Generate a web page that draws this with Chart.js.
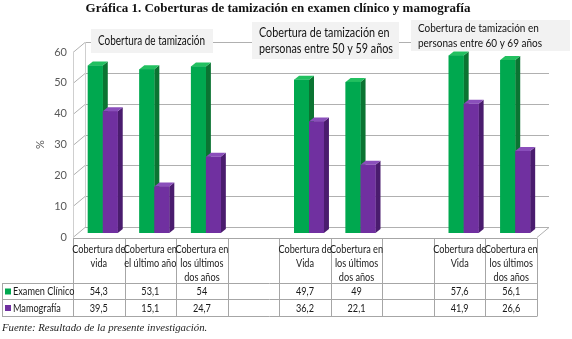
<!DOCTYPE html>
<html>
<head>
<meta charset="utf-8">
<script src="https://cdn.jsdelivr.net/npm/chart.js@4.4.0/dist/chart.umd.min.js"></script>
<style>
  html, body { margin: 0; padding: 0; background: #fff; }
  #wrap { position: relative; width: 572px; height: 339px; overflow: hidden; }
  #title { position: absolute; left: 0; width: 556px; top: 0; text-align: center; font: bold 13px "Liberation Serif", serif; color: #111; }
  #note { position: absolute; left: 2px; top: 321px; font: italic 10.8px "Liberation Serif", serif; color: #222; }
  canvas { position: absolute; left: 0; top: 0; }
</style>
</head>
<body>
<div id="wrap">
  <canvas id="myChart" width="572" height="339"></canvas>
  <div id="title">Gráfica 1. Coberturas de tamización en examen clínico y mamografía</div>
  <div id="note">Fuente: Resultado de la presente investigación.</div>
</div>
<script>
// categories (empty ones are the gaps between groups)
const categories = [
    ['Cobertura de', 'vida'],
    ['Cobertura en', 'el último año'],
    ['Cobertura en', 'los últimos', 'dos años'],
    [''],
    ['Cobertura de', 'Vida'],
    ['Cobertura en', 'los últimos', 'dos años'],
    [''],
    ['Cobertura de', 'Vida'],
    ['Cobertura en', 'los últimos', 'dos años']
];
const examenClinico = [54.3, 53.1, 54, null, 49.7, 49, null, 57.6, 56.1];
const mamografia = [39.5, 15.1, 24.7, null, 36.2, 22.1, null, 41.9, 26.6];
const seriesNames = ['Examen Clínico', 'Mamografía'];
const yTicks = [0, 10, 20, 30, 40, 50, 60];
const groupTitles = [
    ['Cobertura de tamización'],
    ['Cobertura de tamización en', 'personas entre 50 y 59 años'],
    ['Cobertura de tamización en', 'personas entre 60 y 69 años']
];

const FONT = 'Lato, sans-serif';
const colors = {
    front: ['#00a84f', '#7030a0'],
    side: ['#0b7432', '#4a1c6e'],
    top: ['#22c060', '#8a4fbb']
};
const wallDx = 12, wallDy = -10;   // back wall offset
const barDx = 4, barDy = -4;       // bars sit in the middle of the depth
const depthX = 5, depthY = -4;     // bar thickness

function fmt(v) {
    return v === null ? '' : String(v).replace('.', ',');
}

// Lato is wider than the Calibri of the original, so squeeze it a bit
function narrowText(ctx, t, x, y, sx) {
    ctx.save();
    ctx.translate(x, y);
    ctx.scale(sx, 1);
    ctx.fillText(t, 0, 0);
    ctx.restore();
}

// back wall, grid and floor
const wallPlugin = {
    id: 'wall',
    beforeDatasetsDraw(chart) {
        const ctx = chart.ctx;
        const a = chart.chartArea;
        const y = chart.scales.y;
        ctx.save();
        ctx.strokeStyle = '#b0b0b0';
        ctx.lineWidth = 1;
        yTicks.forEach(v => {
            const py = Math.round(y.getPixelForValue(v)) + 0.5;
            ctx.beginPath();
            ctx.moveTo(a.left, py);
            ctx.lineTo(a.left + wallDx, py + wallDy);
            ctx.lineTo(a.right + wallDx, py + wallDy);
            ctx.stroke();
        });
        ctx.strokeStyle = '#cfcfcf';
        ctx.beginPath();
        ctx.moveTo(a.left + 0.5, a.top);
        ctx.lineTo(a.left + 0.5, a.bottom);
        ctx.moveTo(a.left + wallDx + 0.5, a.top + wallDy);
        ctx.lineTo(a.left + wallDx + 0.5, a.bottom + wallDy);
        ctx.stroke();
        ctx.strokeStyle = '#b0b0b0';
        ctx.beginPath();
        ctx.moveTo(a.right, a.bottom + 0.5);
        ctx.lineTo(a.right + wallDx, a.bottom + 0.5 + wallDy);
        ctx.stroke();
        ctx.restore();

        // shift bars into the middle of the depth
        ctx.save();
        ctx.translate(barDx, barDy);
    },
    afterDatasetsDraw(chart) {
        const ctx = chart.ctx;
        const metas = [chart.getDatasetMeta(0), chart.getDatasetMeta(1)];
        for (let i = 0; i < categories.length; i++) {
            metas.forEach((meta, d) => {
                const el = meta.data[i];
                const val = chart.data.datasets[d].data[i];
                if (!el || val === null) return;
                const p = el.getProps(['x', 'y', 'base', 'width'], true);
                const l = p.x - p.width / 2, r = p.x + p.width / 2;
                ctx.fillStyle = colors.side[d];
                ctx.beginPath();
                ctx.moveTo(r, p.y);
                ctx.lineTo(r + depthX, p.y + depthY);
                ctx.lineTo(r + depthX, p.base + depthY);
                ctx.lineTo(r, p.base);
                ctx.closePath();
                ctx.fill();
                ctx.fillStyle = colors.top[d];
                ctx.beginPath();
                ctx.moveTo(l, p.y);
                ctx.lineTo(l + depthX, p.y + depthY);
                ctx.lineTo(r + depthX, p.y + depthY);
                ctx.lineTo(r, p.y);
                ctx.closePath();
                ctx.fill();
                ctx.fillStyle = colors.front[d];
                ctx.fillRect(l, p.y, p.width, p.base - p.y);
            });
        }
        ctx.restore();
    }
};

// data table under the chart + group captions
const tablePlugin = {
    id: 'table',
    afterDraw(chart) {
        const ctx = chart.ctx;
        const a = chart.chartArea;
        const x = chart.scales.x;
        const colW = (a.right - a.left) / categories.length;
        const top = a.bottom + 1.5;
        const rowTop = top + 45, rowMid = rowTop + 16, rowBot = rowMid + 17;

        ctx.save();
        ctx.strokeStyle = '#a6a6a6';
        ctx.lineWidth = 1;
        ctx.beginPath();
        ctx.moveTo(a.left, top); ctx.lineTo(a.right, top);
        ctx.moveTo(2, rowTop); ctx.lineTo(a.right, rowTop);
        ctx.moveTo(2, rowMid); ctx.lineTo(a.right, rowMid);
        ctx.moveTo(2, rowBot); ctx.lineTo(a.right, rowBot);
        ctx.moveTo(2.5, rowTop); ctx.lineTo(2.5, rowBot);
        for (let i = 0; i <= categories.length; i++) {
            const px = Math.round(a.left + i * colW) + 0.5;
            ctx.moveTo(px, top); ctx.lineTo(px, rowBot);
        }
        ctx.stroke();

        ctx.fillStyle = '#1a1a1a';
        ctx.font = '12px ' + FONT;
        ctx.textAlign = 'center';
        ctx.textBaseline = 'middle';
        const sx = 53 / ctx.measureText('Cobertura de').width;
        categories.forEach((lines, i) => {
            const cx = x.getPixelForValue(i);
            lines.forEach((t, k) => narrowText(ctx, t, cx, top + 11 + k * 14, sx));
            narrowText(ctx, fmt(examenClinico[i]), cx, rowTop + 8, sx);
            narrowText(ctx, fmt(mamografia[i]), cx, rowMid + 8.5, sx);
        });
        ctx.textAlign = 'left';
        [rowTop + 8, rowMid + 8.5].forEach((cy, d) => {
            ctx.fillStyle = colors.front[d];
            ctx.fillRect(5, cy - 3, 6, 6);
            ctx.fillStyle = '#1a1a1a';
            narrowText(ctx, seriesNames[d], 13, cy, sx);
        });

        // group captions: box and width of the widest line
        const boxes = [
            {x: 91, y: 29, w: 122, h: 24, size: 13, tw: 107},
            {x: 252, y: 22, w: 147, h: 37, size: 13, tw: 134},
            {x: 411, y: 20, w: 159, h: 31, size: 12, tw: 124}
        ];
        boxes.forEach((b, g) => {
            ctx.fillStyle = '#f2f2f2';
            ctx.fillRect(b.x, b.y, b.w, b.h);
            ctx.fillStyle = '#111';
            ctx.font = b.size + 'px ' + FONT;
            ctx.textAlign = 'left';
            const lines = groupTitles[g];
            const widest = Math.max(...lines.map(t => ctx.measureText(t).width));
            const s = b.tw / widest;
            const lh = b.size + 3;
            const y0 = b.y + b.h / 2 - (lines.length - 1) * lh / 2;
            lines.forEach((t, k) => narrowText(ctx, t, b.x + 7, y0 + k * lh, s));
        });
        ctx.restore();
    }
};

const ctx = document.getElementById('myChart').getContext('2d');
const myChart = new Chart(ctx, {
    type: 'bar',
    data: {
        labels: categories,
        datasets: [{
            label: seriesNames[0],
            data: examenClinico,
            backgroundColor: colors.front[0],
            categoryPercentage: 0.58,
            barPercentage: 1.0,
            clip: false
        }, {
            label: seriesNames[1],
            data: mamografia,
            backgroundColor: colors.front[1],
            categoryPercentage: 0.58,
            barPercentage: 1.0,
            clip: false
        }]
    },
    options: {
        responsive: false,
        animation: false,
        layout: {
            padding: {left: 0, right: 35, top: 52, bottom: 102}
        },
        scales: {
            x: {
                display: false
            },
            y: {
                min: 0,
                max: 60,
                afterFit: function(scale) { scale.width = 73; },
                afterBuildTicks: function(scale) {
                    scale.ticks = yTicks.map(v => ({value: v}));
                },
                grid: {display: false, drawTicks: false},
                border: {display: false},
                ticks: {
                    padding: 6,
                    color: '#595959',
                    font: {family: FONT, size: 11}
                },
                title: {
                    display: true,
                    text: '%',
                    color: '#595959',
                    font: {family: FONT, size: 11},
                    padding: {top: 34, bottom: 0}
                }
            }
        },
        plugins: {
            legend: {display: false},
            tooltip: {enabled: false}
        }
    },
    plugins: [wallPlugin, tablePlugin]
});
</script>
</body>
</html>
